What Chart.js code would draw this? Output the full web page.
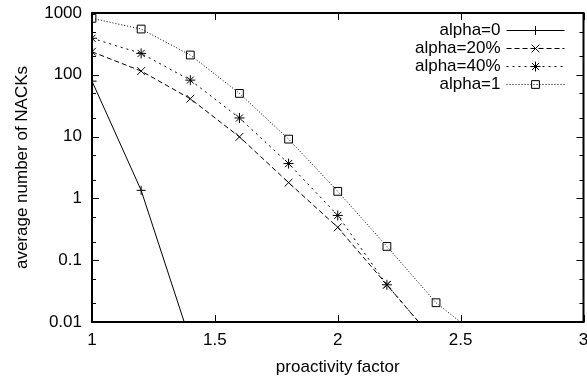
<!DOCTYPE html>
<html>
<head>
<meta charset="utf-8">
<script src="https://cdn.jsdelivr.net/npm/chart.js@4.4.0/dist/chart.umd.min.js"></script>
<style>
  html, body { margin: 0; padding: 0; background: #fff; overflow: hidden; }
  #wrap { width: 590px; height: 379px; }
</style>
</head>
<body>
<div id="wrap"><canvas id="nackChart" width="590" height="379"></canvas></div>
<script>
// proactivity factor on x, NACK counts
const xValues = [1, 1.2, 1.4, 1.6, 1.8, 2.0, 2.2, 2.4, 2.6];
const alpha0 = [79, 1.35, 0.005];
const alpha20 = [236, 115, 41, 9.9, 1.8, 0.34, 0.040, 0.0047];
const alpha40 = [390, 222, 82, 20, 3.66, 0.53, 0.040, 0.0047];
const alpha1 = [820, 550, 209, 50, 9.1, 1.30, 0.167, 0.0205, 0.0048];
const seriesNames = ['alpha=0', 'alpha=20%', 'alpha=40%', 'alpha=1'];

const xTicks = [1, 1.5, 2, 2.5, 3];
const yTicks = [0.01, 0.1, 1, 10, 100, 1000];
const yTickLabels = ['0.01', '0.1', '1', '10', '100', '1000'];
const yMinorTicks = [0.02, 0.05, 0.2, 0.5, 2, 5, 20, 50, 200, 500];

const FONT = '"Liberation Sans", Arial, sans-serif';

function toPoints(ys) {
    return ys.map((y, i) => ({ x: xValues[i], y: y }));
}

function makeSeries(label, ys, dash, style, radius) {
    return {
        label: label,
        data: toPoints(ys),
        showLine: true,
        borderColor: '#000',
        borderWidth: 1,
        borderDash: dash,
        pointStyle: style,
        pointRadius: radius,
        pointBorderColor: '#000',
        pointBackgroundColor: 'rgba(0,0,0,0)',
        pointBorderWidth: 1,
        tension: 0
    };
}

// box + inward ticks on all four sides, like gnuplot
const gnuplotFrame = {
    id: 'gnuplotFrame',
    afterDatasetsDraw(chart) {
        const { ctx, chartArea: a, scales: { x, y } } = chart;
        ctx.save();
        ctx.strokeStyle = '#000';
        ctx.lineWidth = 1;
        ctx.setLineDash([]);
        ctx.beginPath();
        xTicks.forEach(v => {
            const px = Math.round(x.getPixelForValue(v)) + 0.5;
            ctx.moveTo(px, a.bottom); ctx.lineTo(px, a.bottom - 7);
            ctx.moveTo(px, a.top); ctx.lineTo(px, a.top + 7);
        });
        yTicks.forEach(v => {
            const py = Math.round(y.getPixelForValue(v)) + 0.5;
            ctx.moveTo(a.left, py); ctx.lineTo(a.left + 7, py);
            ctx.moveTo(a.right, py); ctx.lineTo(a.right - 7, py);
        });
        yMinorTicks.forEach(v => {
            const py = Math.round(y.getPixelForValue(v)) + 0.5;
            ctx.moveTo(a.left, py); ctx.lineTo(a.left + 4, py);
            ctx.moveTo(a.right, py); ctx.lineTo(a.right - 4, py);
        });
        ctx.stroke();
        ctx.lineWidth = 2;
        ctx.strokeRect(a.left, a.top, a.right - a.left, a.bottom - a.top);
        ctx.restore();
    }
};

// key in the top right corner: text on the left, line sample on the right
const gnuplotKey = {
    id: 'gnuplotKey',
    afterDraw(chart) {
        const { ctx, chartArea: a } = chart;
        ctx.save();
        ctx.font = '17px ' + FONT;
        ctx.textAlign = 'right';
        ctx.textBaseline = 'middle';
        chart.data.datasets.forEach((ds, i) => {
            const yRow = a.top + 17 + i * 18;
            ctx.fillStyle = '#000';
            ctx.fillText(ds.label, a.right - 83, yRow);
            ctx.strokeStyle = '#000';
            ctx.lineWidth = 1;
            ctx.setLineDash(ds.borderDash);
            ctx.beginPath();
            ctx.moveTo(a.right - 77, yRow + 0.5);
            ctx.lineTo(a.right - 19, yRow + 0.5);
            ctx.stroke();
            ctx.setLineDash([]);
            ctx.fillStyle = 'rgba(0,0,0,0)';
            Chart.helpers.drawPoint(ctx, {
                pointStyle: ds.pointStyle,
                radius: ds.pointRadius,
                rotation: 0,
                borderWidth: 1
            }, a.right - 48, yRow + 0.5);
        });
        ctx.restore();
    }
};

const ctx = document.getElementById('nackChart').getContext('2d');
new Chart(ctx, {
    type: 'scatter',
    data: {
        datasets: [
            makeSeries(seriesNames[0], alpha0, [], 'cross', 4.5),
            makeSeries(seriesNames[1], alpha20, [5, 3], 'crossRot', 5.5),
            makeSeries(seriesNames[2], alpha40, [2, 4], 'star', 5),
            makeSeries(seriesNames[3], alpha1, [1, 2], 'rect', 5.5)
        ]
    },
    options: {
        responsive: false,
        animation: false,
        devicePixelRatio: 1,
        layout: { padding: { top: 13, right: 0, bottom: 0, left: 0 } },
        plugins: {
            legend: { display: false },
            tooltip: { enabled: false }
        },
        scales: {
            x: {
                type: 'linear',
                min: 1,
                max: 3,
                afterBuildTicks: s => { s.ticks = xTicks.map(v => ({ value: v })); },
                afterFit: s => { s.height = 57; },
                // hidden grid; tickLength only spaces the labels off the axis
                grid: { display: false, drawTicks: true, tickLength: 8 },
                border: { display: false },
                ticks: {
                    color: '#000',
                    font: { family: FONT, size: 17 },
                    padding: 0,
                    autoSkip: false,
                    maxRotation: 0,
                    callback: v => String(v)
                },
                title: {
                    display: true,
                    text: 'proactivity factor',
                    color: '#000',
                    font: { family: FONT, size: 17 },
                    padding: { top: 0, bottom: 1 }
                }
            },
            y: {
                type: 'logarithmic',
                min: 0.01,
                max: 1000,
                afterBuildTicks: s => { s.ticks = yTicks.map(v => ({ value: v })); },
                afterFit: s => { s.width = 92; },
                grid: { display: false, drawTicks: true, tickLength: 10 },
                border: { display: false },
                ticks: {
                    color: '#000',
                    font: { family: FONT, size: 17 },
                    padding: 0,
                    autoSkip: false,
                    callback: v => yTickLabels[yTicks.indexOf(v)]
                },
                title: {
                    display: true,
                    text: 'average number of NACKs',
                    color: '#000',
                    font: { family: FONT, size: 17 },
                    padding: { top: 12, bottom: 0 }
                }
            }
        }
    },
    plugins: [gnuplotFrame, gnuplotKey]
});
</script>
</body>
</html>
